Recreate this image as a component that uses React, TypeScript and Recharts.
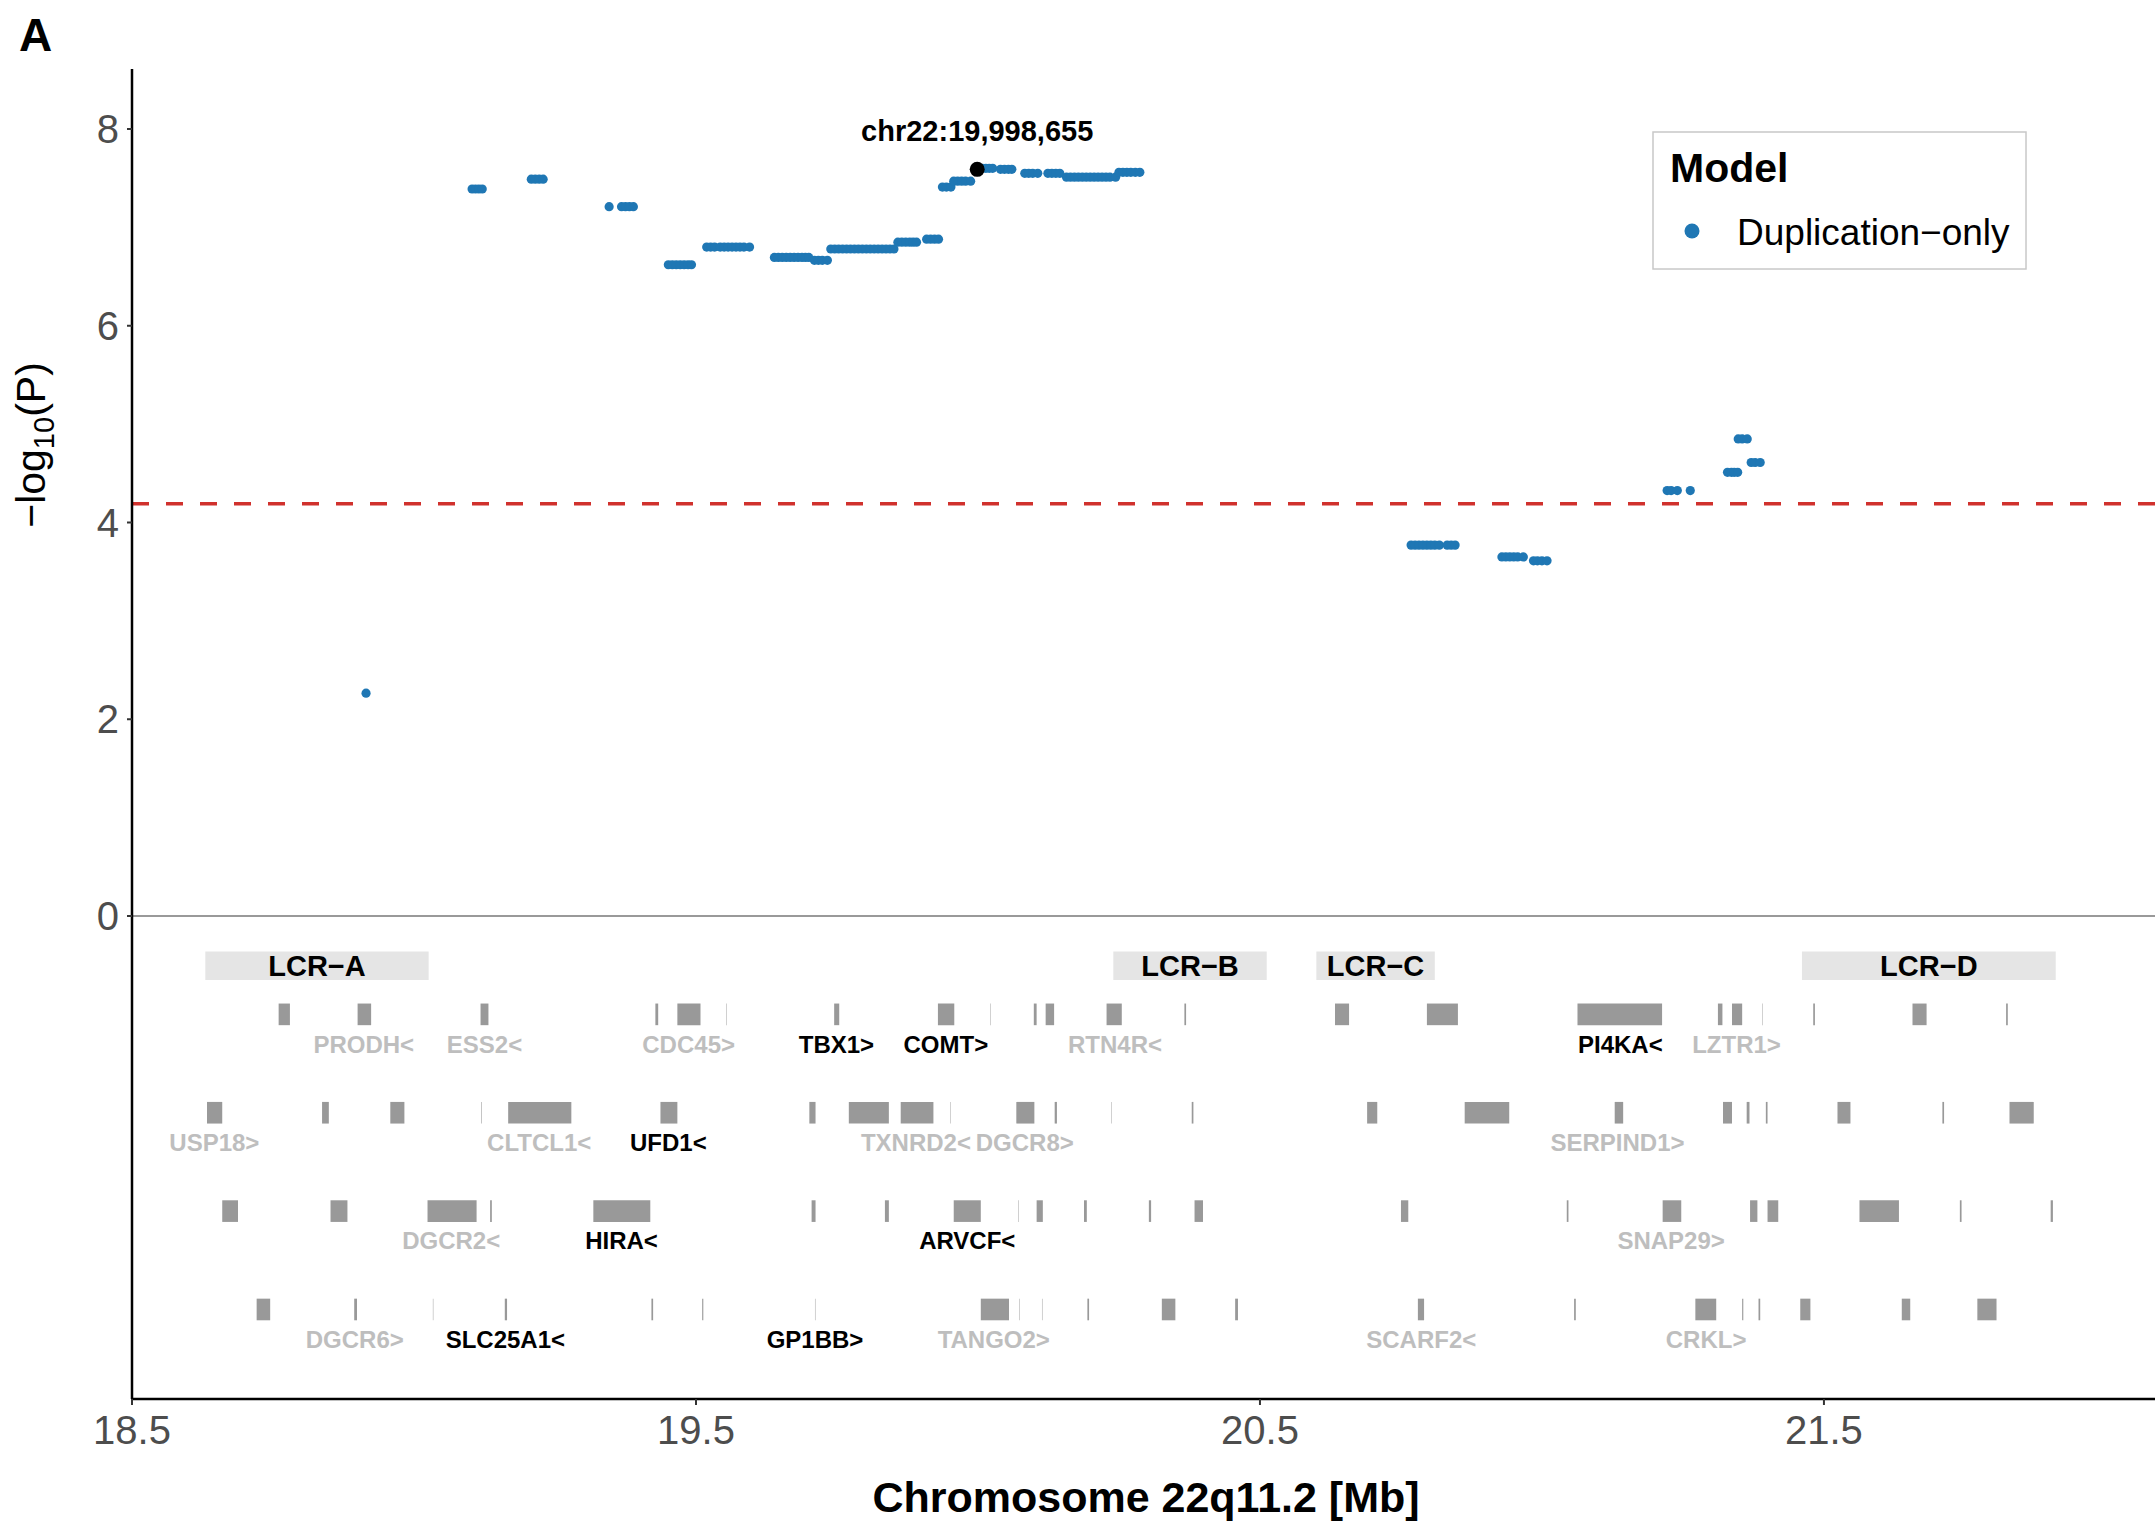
import React from 'react';
import {
  ComposedChart,
  Scatter,
  XAxis,
  YAxis,
  ReferenceLine,
  ReferenceArea,
} from 'recharts';

const WIDTH = 2155;
const HEIGHT = 1524;
const FONT = '"Liberation Sans", Arial, Helvetica, sans-serif';

// duplication-only association runs: -log10(P) and marker positions (Mb)
const dupRuns: { logP: number; pos: number[] }[] = [
  { logP: 2.265, pos: [18.915] },
  { logP: 7.39, pos: [19.103, 19.109, 19.115, 19.121] },
  { logP: 7.49, pos: [19.208, 19.215, 19.222, 19.229] },
  { logP: 7.21, pos: [19.346, 19.368, 19.375, 19.382, 19.389] },
  { logP: 6.62, pos: [19.451, 19.458, 19.465, 19.472, 19.479, 19.486, 19.492] },
  { logP: 6.8, pos: [19.519, 19.526, 19.533, 19.543, 19.55, 19.557, 19.564, 19.571, 19.578, 19.585, 19.595] },
  { logP: 6.695, pos: [19.639, 19.646, 19.653, 19.66, 19.667, 19.674, 19.681, 19.688, 19.694, 19.7] },
  { logP: 6.665, pos: [19.71, 19.717, 19.724, 19.733] },
  { logP: 6.78, pos: [19.739, 19.746, 19.753, 19.76, 19.767, 19.774, 19.781, 19.788, 19.795, 19.802, 19.809, 19.816, 19.823, 19.83, 19.837, 19.844, 19.851] },
  { logP: 6.85, pos: [19.858, 19.865, 19.872, 19.879, 19.885, 19.891] },
  { logP: 6.88, pos: [19.909, 19.916, 19.923, 19.93] },
  { logP: 7.41, pos: [19.937, 19.944, 19.952] },
  { logP: 7.47, pos: [19.957, 19.964, 19.971, 19.978, 19.987] },
  { logP: 7.6, pos: [20.008, 20.014, 20.02, 20.026] },
  { logP: 7.59, pos: [20.04, 20.047, 20.054, 20.06] },
  { logP: 7.55, pos: [20.083, 20.09, 20.097, 20.106] },
  { logP: 7.55, pos: [20.124, 20.131, 20.138, 20.145] },
  { logP: 7.51, pos: [20.157, 20.164, 20.171, 20.178, 20.185, 20.192, 20.199, 20.206, 20.213, 20.22, 20.227, 20.234, 20.244] },
  { logP: 7.56, pos: [20.25, 20.257, 20.264, 20.271, 20.279, 20.287] },
  { logP: 3.77, pos: [20.768, 20.775, 20.782, 20.789, 20.796, 20.803, 20.81, 20.818, 20.832, 20.839, 20.846] },
  { logP: 3.65, pos: [20.929, 20.936, 20.943, 20.95, 20.957, 20.967] },
  { logP: 3.61, pos: [20.985, 20.992, 21.0, 21.009] },
  { logP: 4.325, pos: [21.222, 21.229, 21.24, 21.263] },
  { logP: 4.51, pos: [21.329, 21.336, 21.341, 21.347] },
  { logP: 4.85, pos: [21.348, 21.355, 21.364] },
  { logP: 4.61, pos: [21.371, 21.378, 21.387] },
];

const leadSnp = { x: 19.998655, y: 7.59, label: 'chr22:19,998,655' };
const threshold = 4.19;

const xTicks = [18.5, 19.5, 20.5, 21.5];
const yTicks = [0, 2, 4, 6, 8];

// low copy repeat blocks
const lcrRegions = [
  { name: 'LCR−A', start: 18.63, end: 19.026 },
  { name: 'LCR−B', start: 20.24, end: 20.512 },
  { name: 'LCR−C', start: 20.6, end: 20.81 },
  { name: 'LCR−D', start: 21.461, end: 21.911 },
];

// gene bodies [start, end] in Mb, one array per track
const geneTrack1: [number, number][] = [
  [18.76, 18.78], [18.9, 18.924], [19.118, 19.132], [19.428, 19.433], [19.467, 19.508],
  [19.554, 19.5548], [19.745, 19.754], [19.929, 19.958], [20.022, 20.0228], [20.099, 20.104],
  [20.12, 20.135], [20.228, 20.255], [20.366, 20.369], [20.633, 20.658], [20.796, 20.851],
  [21.063, 21.213], [21.312, 21.32], [21.337, 21.355], [21.391, 21.3918], [21.481, 21.484],
  [21.657, 21.682], [21.823, 21.826],
];
const geneTrack2: [number, number][] = [
  [18.633, 18.66], [18.837, 18.849], [18.958, 18.983], [19.1195, 19.1205], [19.167, 19.279],
  [19.437, 19.467], [19.701, 19.712], [19.771, 19.842], [19.863, 19.921], [19.951, 19.9518],
  [20.068, 20.1], [20.136, 20.14], [20.236, 20.2368], [20.379, 20.382], [20.69, 20.708],
  [20.863, 20.942], [21.129, 21.144], [21.321, 21.337], [21.363, 21.368], [21.397, 21.4],
  [21.524, 21.547], [21.71, 21.713], [21.829, 21.872],
];
const geneTrack3: [number, number][] = [
  [18.66, 18.688], [18.852, 18.882], [19.024, 19.111], [19.135, 19.138], [19.318, 19.419],
  [19.705, 19.712], [19.835, 19.842], [19.957, 20.005], [20.0715, 20.0723], [20.104, 20.115],
  [20.188, 20.193], [20.303, 20.307], [20.384, 20.399], [20.75, 20.763], [21.044, 21.047],
  [21.214, 21.247], [21.369, 21.382], [21.4, 21.419], [21.563, 21.633], [21.741, 21.744],
  [21.902, 21.906],
];
const geneTrack4: [number, number][] = [
  [18.721, 18.745], [18.894, 18.899], [19.0335, 19.0343], [19.161, 19.165], [19.421, 19.424],
  [19.511, 19.513], [19.711, 19.7118], [20.005, 20.055], [20.0735, 20.0743], [20.1135, 20.1143],
  [20.194, 20.197], [20.326, 20.35], [20.456, 20.461], [20.78, 20.791], [21.057, 21.06],
  [21.272, 21.309], [21.355, 21.357], [21.384, 21.387], [21.458, 21.476], [21.638, 21.653],
  [21.772, 21.806],
];
const geneTracks = [geneTrack1, geneTrack2, geneTrack3, geneTrack4];

// gene names: track number, centre (Mb), highlighted genes drawn in black
const geneLabels = [
  { name: 'PRODH<', track: 1, x: 18.911, key: false },
  { name: 'ESS2<', track: 1, x: 19.125, key: false },
  { name: 'CDC45>', track: 1, x: 19.487, key: false },
  { name: 'TBX1>', track: 1, x: 19.749, key: true },
  { name: 'COMT>', track: 1, x: 19.943, key: true },
  { name: 'RTN4R<', track: 1, x: 20.243, key: false },
  { name: 'PI4KA<', track: 1, x: 21.139, key: true },
  { name: 'LZTR1>', track: 1, x: 21.345, key: false },
  { name: 'USP18>', track: 2, x: 18.646, key: false },
  { name: 'CLTCL1<', track: 2, x: 19.222, key: false },
  { name: 'UFD1<', track: 2, x: 19.451, key: true },
  { name: 'TXNRD2<', track: 2, x: 19.89, key: false },
  { name: 'DGCR8>', track: 2, x: 20.083, key: false },
  { name: 'SERPIND1>', track: 2, x: 21.134, key: false },
  { name: 'DGCR2<', track: 3, x: 19.066, key: false },
  { name: 'HIRA<', track: 3, x: 19.368, key: true },
  { name: 'ARVCF<', track: 3, x: 19.981, key: true },
  { name: 'SNAP29>', track: 3, x: 21.229, key: false },
  { name: 'DGCR6>', track: 4, x: 18.895, key: false },
  { name: 'SLC25A1<', track: 4, x: 19.162, key: true },
  { name: 'GP1BB>', track: 4, x: 19.711, key: true },
  { name: 'TANGO2>', track: 4, x: 20.028, key: false },
  { name: 'SCARF2<', track: 4, x: 20.786, key: false },
  { name: 'CRKL>', track: 4, x: 21.291, key: false },
];

const BLUE = '#1F77B4';
const GENE_FILL = '#999999';
const TRACK_HALF = 0.11;

const dupPoints = dupRuns.flatMap((r) => r.pos.map((p) => ({ x: p, y: r.logP })));
const labelPoints = geneLabels.map((g) => ({ x: g.x, y: -g.track - 0.39, name: g.name, key: g.key }));
const lcrPoints = lcrRegions.map((r) => ({ x: (r.start + r.end) / 2, y: -0.505, name: r.name }));

const BluePoint = (props: any) => (
  <circle cx={props.cx} cy={props.cy} r={4.6} fill={BLUE} />
);

const LeadPoint = (props: any) => (
  <g>
    <circle cx={props.cx} cy={props.cy} r={7.5} fill="#000" />
    <text x={props.cx} y={props.cy - 28} textAnchor="middle" fontSize={29} fontWeight="bold" fill="#000">
      {props.payload.label}
    </text>
  </g>
);

const GeneName = (props: any) => (
  <text
    x={props.cx}
    y={props.cy}
    textAnchor="middle"
    fontSize={24}
    fontWeight="bold"
    fill={props.payload.key ? '#000' : '#BEBEBE'}
  >
    {props.payload.name}
  </text>
);

const LcrName = (props: any) => (
  <text x={props.cx} y={props.cy + 10} textAnchor="middle" fontSize={29} fontWeight="bold" fill="#000">
    {props.payload.name}
  </text>
);

export default function App() {
  return (
    <div
      style={{
        position: 'absolute',
        left: 0,
        top: 0,
        width: WIDTH,
        height: HEIGHT,
        background: '#fff',
        fontFamily: FONT,
      }}
    >
      <ComposedChart width={WIDTH} height={HEIGHT} margin={{ top: 69, right: 0, bottom: 0, left: 0 }}>
        <XAxis
          type="number"
          dataKey="x"
          domain={[18.5, 22.087]}
          allowDataOverflow
          ticks={xTicks}
          interval={0}
          tickFormatter={(v: number) => v.toFixed(1)}
          height={125}
          tickSize={6}
          tickMargin={11}
          tick={{ fill: '#4D4D4D', fontSize: 40 }}
          tickLine={{ stroke: '#333', strokeWidth: 2 }}
          axisLine={{ stroke: '#000', strokeWidth: 2.5 }}
        />
        <YAxis
          type="number"
          dataKey="y"
          domain={[-4.91, 8.61]}
          allowDataOverflow
          ticks={yTicks}
          interval={0}
          width={132}
          tickSize={5}
          tickMargin={8}
          tick={{ fill: '#4D4D4D', fontSize: 40 }}
          tickLine={{ stroke: '#333', strokeWidth: 2 }}
          axisLine={{ stroke: '#000', strokeWidth: 2.5 }}
        />
        <ReferenceLine y={0} stroke="#999" strokeWidth={2} />
        {lcrRegions.map((r) => (
          <ReferenceArea
            key={r.name}
            x1={r.start}
            x2={r.end}
            y1={-0.65}
            y2={-0.36}
            fill="#E5E5E5"
            fillOpacity={1}
            stroke="none"
          />
        ))}
        {geneTracks.map((track, i) =>
          track.map(([s, e], j) => (
            <ReferenceArea
              key={`g${i}-${j}`}
              x1={s}
              x2={e}
              y1={-(i + 1) - TRACK_HALF}
              y2={-(i + 1) + TRACK_HALF}
              fill={GENE_FILL}
              fillOpacity={1}
              stroke="none"
            />
          ))
        )}
        <Scatter data={lcrPoints} shape={LcrName} isAnimationActive={false} />
        <Scatter data={labelPoints} shape={GeneName} isAnimationActive={false} />
        <ReferenceLine y={threshold} stroke="#D0312D" strokeWidth={3.5} strokeDasharray="17 17" />
        <Scatter name="Duplication−only" data={dupPoints} shape={BluePoint} isAnimationActive={false} />
        <Scatter data={[leadSnp]} shape={LeadPoint} isAnimationActive={false} />
      </ComposedChart>

      <svg
        width={WIDTH}
        height={HEIGHT}
        style={{ position: 'absolute', left: 0, top: 0, pointerEvents: 'none', fontFamily: FONT }}
      >
        <text x={19} y={51} fontSize={46} fontWeight="bold" fill="#000">A</text>
        <text
          x={45}
          y={445}
          transform="rotate(-90 45 445)"
          textAnchor="middle"
          fontSize={41}
          fill="#000"
        >
          −log<tspan fontSize={29} dy={9}>10</tspan>
          <tspan dy={-9}>(P)</tspan>
        </text>
        <text x={1146} y={1512} textAnchor="middle" fontSize={43} fontWeight="bold" fill="#000">
          Chromosome 22q11.2 [Mb]
        </text>
        <rect x={1653} y={132} width={373} height={137} fill="#fff" stroke="#C8C8C8" strokeWidth={1.5} />
        <text x={1670} y={182} fontSize={41} fontWeight="bold" fill="#000">Model</text>
        <circle cx={1692} cy={231} r={7.5} fill={BLUE} />
        <text x={1737} y={245} fontSize={37} fill="#000">Duplication−only</text>
      </svg>
    </div>
  );
}
